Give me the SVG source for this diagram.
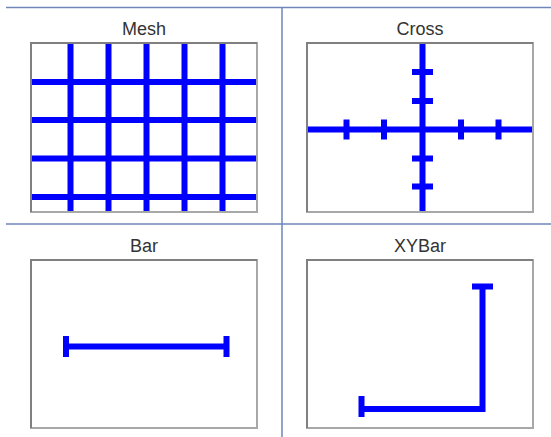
<svg xmlns="http://www.w3.org/2000/svg" width="551" height="437" viewBox="0 0 551 437">
<style>
.sep{stroke:#6f86b8;stroke-width:1.5;fill:none}
.box{fill:#fff;stroke:#a8a8a8;stroke-width:2}
.boxd{stroke:#808080;stroke-width:2;fill:none}
.ln{stroke:#0000ff;stroke-width:6;fill:none}
.t{font-family:"Liberation Sans",Arial,sans-serif;font-size:18px;fill:#333;text-anchor:middle}
</style>
<rect width="551" height="437" fill="#fff"/>
<g id="grid">
<line class="sep" x1="6" y1="7.5" x2="551" y2="7.5"/>
<line class="sep" x1="6" y1="224" x2="551" y2="224"/>
<line class="sep" x1="282" y1="7" x2="282" y2="437"/>
</g>
<g id="mesh">
<text class="t" x="144" y="35">Mesh</text>
<rect class="box" x="31" y="43" width="226" height="169"/>
<path class="boxd" d="M31,212V43H257"/>
<path class="ln" d="M70.5,44V211M108.5,44V211M146.5,44V211M184.5,44V211M222.5,44V211M32,82H256M32,120H256M32,158.5H256M32,197H256"/>
</g>
<g id="cross">
<text class="t" x="420" y="35">Cross</text>
<rect class="box" x="307" y="43" width="226" height="169"/>
<path class="boxd" d="M307,212V43H533"/>
<path class="ln" d="M422.5,44V211M308,129.5H532M346.5,119.5V139.5M384,119.5V139.5M461,119.5V139.5M498.5,119.5V139.5M412,72H433M412,101H433M412,158.5H433M412,186.5H433"/>
</g>
<g id="bar">
<text class="t" x="144" y="252">Bar</text>
<rect class="box" x="31" y="260" width="226" height="168"/>
<path class="boxd" d="M31,428V260H257"/>
<path class="ln" d="M66,346.5H226M66,336V357M226.5,336V357"/>
</g>
<g id="xybar">
<text class="t" x="420" y="252">XYBar</text>
<rect class="box" x="307" y="260" width="226" height="168"/>
<path class="boxd" d="M307,428V260H533"/>
<path class="ln" d="M482.5,286.5V409H361.5M472,286.5H493M361.5,396V417"/>
</g>
</svg>
